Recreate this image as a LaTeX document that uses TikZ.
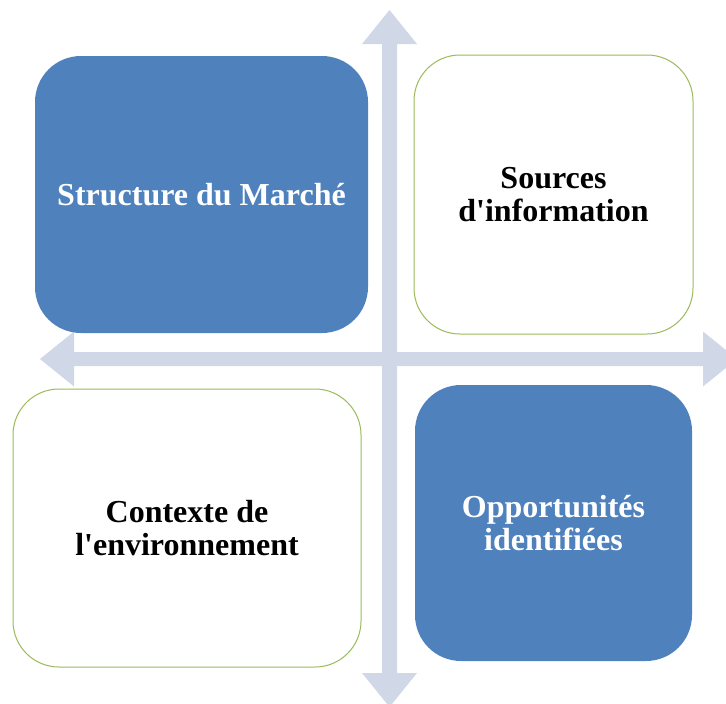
\documentclass[tikz,border=0pt]{standalone}
\usepackage{fontspec}
\setmainfont{Liberation Serif}[Ligatures=TeXOff]
\definecolor{axisc}{HTML}{D0D7E7}
\definecolor{boxblue}{HTML}{4F81BD}
\definecolor{boxgreen}{HTML}{9BBB59}
\begin{document}
\begin{tikzpicture}[x=1pt,y=-1pt,
  quad/.style={rounded corners=46pt, align=center, inner sep=0pt,
    font=\fontsize{32}{32.5}\selectfont\bfseries},
  bluebox/.style={quad, fill=boxblue, text=white},
  greenbox/.style={quad, fill=white, draw=boxgreen, line width=1pt, text=black}]
\useasboundingbox (0,0) rectangle (726,704);
% vertical double arrow
\fill[axisc] (389.5,10) -- (417,44) -- (397,44) -- (397,673) -- (417,673) -- (389.5,707)
  -- (362,673) -- (382,673) -- (382,44) -- (362,44) -- cycle;
% horizontal double arrow
\fill[axisc] (40,359) -- (74,331.5) -- (74,352) -- (703,352) -- (703,331.5) -- (737,359)
  -- (703,386.5) -- (703,366) -- (74,366) -- (74,386.5) -- cycle;
% boxes
\node[bluebox, minimum width=333pt, minimum height=277pt] (tl) at (201.5,194.5) {Structure du March\'e};
\node[greenbox, minimum width=279pt, minimum height=279pt] (tr) at (553.5,194.5) {Sources\\d'information};
\node[greenbox, minimum width=348pt, minimum height=278pt] (bl) at (187,528) {Contexte de\\l'environnement};
\node[bluebox, minimum width=277pt, minimum height=276pt] (br) at (553.5,523) {Opportunit\'es\\identifi\'ees};
\end{tikzpicture}
\end{document}
